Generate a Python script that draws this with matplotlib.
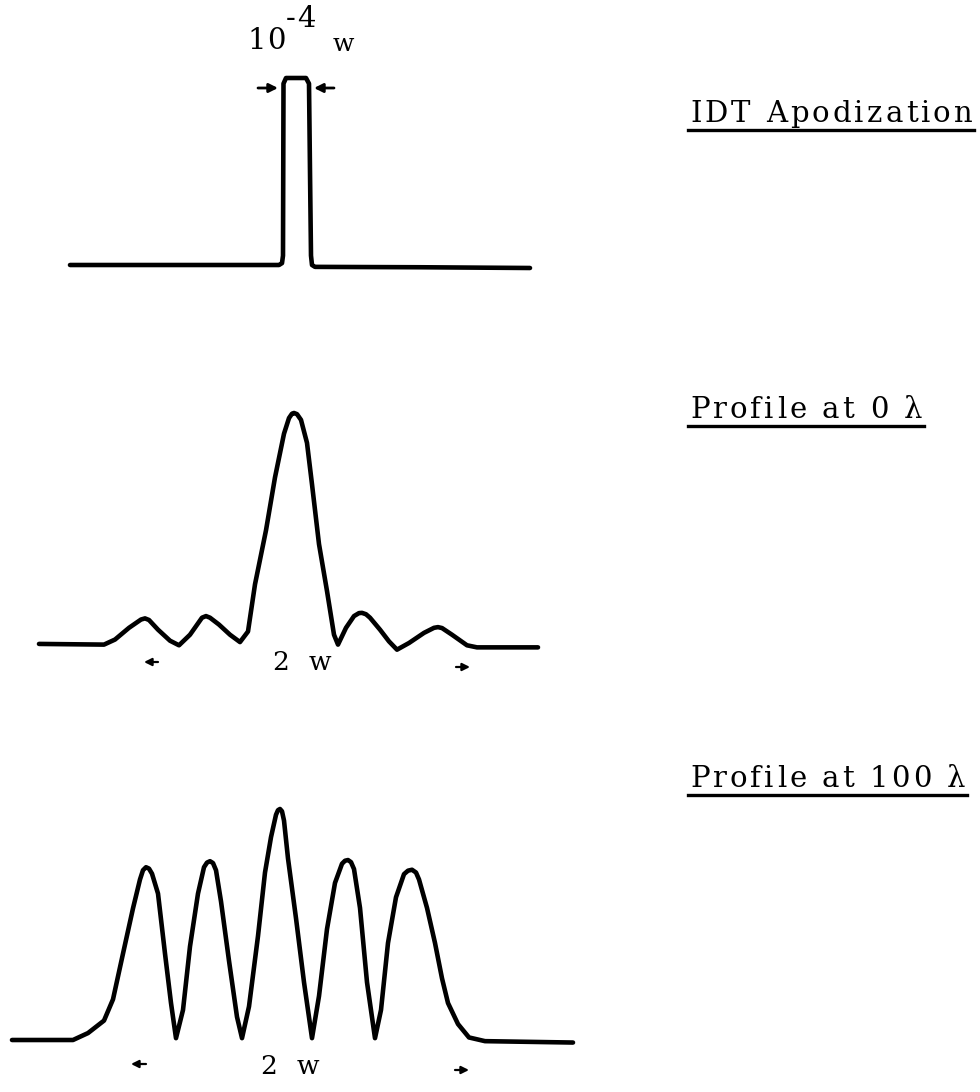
import matplotlib
matplotlib.use('Agg')
import matplotlib.pyplot as plt

W, H = 980, 1092

# transducer apodization: a narrow rectangular window
apod_x = [70, 200, 279, 282, 283, 283.5, 286, 306, 309, 310, 311, 312, 315, 420, 530]
apod_y = [0.0, 0.0, 0.0, 0.01, 0.05, 0.97, 1.0, 1.0, 0.97, 0.5, 0.05, 0.0, -0.01, -0.012, -0.016]

# beam profile at 0 wavelengths
prof0_x = [39, 104, 115, 129, 141, 145, 149, 158, 170, 179, 190, 202, 206, 210, 219,
           230, 240, 248, 255, 266, 275, 284, 289, 292, 294, 297, 301, 307, 312, 319,
           327, 334, 338, 346, 354, 359, 362, 366, 370, 380, 389, 397, 409, 424, 434,
           438, 442, 452, 467, 477, 538]
prof0_y = [-0.004, -0.007, 0.015, 0.066, 0.102, 0.107, 0.1, 0.058, 0.01, -0.01, 0.036,
           0.11, 0.117, 0.11, 0.08, 0.036, 0.004, 0.05, 0.255, 0.49, 0.72, 0.91, 0.978,
           0.997, 1.0, 0.995, 0.97, 0.87, 0.69, 0.43, 0.226, 0.036, -0.007, 0.066, 0.117,
           0.13, 0.131, 0.125, 0.11, 0.058, 0.007, -0.029, 0.0, 0.044, 0.066, 0.069,
           0.065, 0.036, -0.01, -0.019, -0.019]

# beam profile at 100 wavelengths
prof100_x = [12, 73, 88, 104, 113, 123, 133, 140, 143, 146, 149, 152, 158, 165, 171,
             176, 183, 190, 198, 204, 207, 210, 213, 216, 221, 229, 237, 242, 249, 258,
             265, 271, 276, 278, 280, 282, 284, 288, 296, 304, 312, 319, 327, 335, 342,
             345, 348, 351, 354, 360, 367, 375, 381, 388, 396, 404, 408, 412, 416, 419,
             427, 435, 442, 448, 458, 469, 485, 573]
prof100_y = [0.0, 0.0, 0.03, 0.084, 0.176, 0.374, 0.57, 0.695, 0.735, 0.748, 0.742,
             0.72, 0.634, 0.374, 0.16, 0.008, 0.13, 0.405, 0.634, 0.748, 0.768, 0.774,
             0.766, 0.735, 0.6, 0.343, 0.1, 0.008, 0.145, 0.45, 0.725, 0.878, 0.975,
             0.995, 1.0, 0.99, 0.95, 0.786, 0.527, 0.25, 0.008, 0.19, 0.48, 0.68, 0.763,
             0.776, 0.779, 0.77, 0.74, 0.572, 0.25, 0.008, 0.13, 0.42, 0.618, 0.718,
             0.733, 0.737, 0.725, 0.695, 0.572, 0.42, 0.267, 0.16, 0.069, 0.011, -0.005,
             -0.011]

labels = ['IDT Apodization', 'Profile at 0 \u03bb', 'Profile at 100 \u03bb']

serif = 'DejaVu Serif'

fig = plt.figure(figsize=(W / 100, H / 100), dpi=100)
fig.patch.set_facecolor('white')

page = fig.add_axes([0, 0, 1, 1])
page.set_xlim(0, W)
page.set_ylim(H, 0)
page.axis('off')

fig.canvas.draw()
renderer = fig.canvas.get_renderer()


def curve_axes(base, top):
    ax = fig.add_axes([0, 1 - base / H, 1, (base - top) / H])
    ax.set_xlim(0, W)
    ax.set_ylim(0, 1)
    ax.axis('off')
    return ax


def arrow(x0, x1, y, size=11, lw=1.6):
    page.annotate('', xy=(x1, y), xytext=(x0, y),
                  arrowprops=dict(arrowstyle='-|>', color='black', lw=lw,
                                  mutation_scale=size, shrinkA=0, shrinkB=0))


def spaced(x, y, s, track, size, space=0.5):
    # typewriter style lettering: one glyph at a time with extra spacing
    probe = page.text(0, 0, 'n', fontsize=size, family=serif)
    space_w = probe.get_window_extent(renderer).width * space
    probe.remove()
    for ch in s:
        if ch == ' ':
            x += space_w + track
            continue
        t = page.text(x, y, ch, fontsize=size, family=serif, ha='left', va='baseline')
        x += t.get_window_extent(renderer).width + track
    return x - track


# the three traces
for xs, ys, base, top in [(apod_x, apod_y, 265, 78),
                          (prof0_x, prof0_y, 643, 413),
                          (prof100_x, prof100_y, 1040, 809)]:
    ax = curve_axes(base, top)
    ax.plot(xs, ys, color='black', lw=3.3, solid_joinstyle='round',
            solid_capstyle='round', clip_on=False)

# width of the aperture
spaced(247, 49, '10', 1.5, 21)
spaced(286, 27, '-4', 1, 21)
spaced(333, 51, 'w', 0, 18)
arrow(258, 278, 88, size=13, lw=2)
arrow(334, 314, 88, size=13, lw=2)

# 2 w span markers
spaced(272, 670, '2 w', 2, 19, space=0.9)
arrow(158, 144, 662)
arrow(456, 470, 667)
spaced(260, 1074, '2 w', 2, 19, space=0.9)
arrow(146, 131, 1064)
arrow(455, 469, 1070)

# underlined captions on the right
for label, y in zip(labels, [122, 418, 787]):
    x1 = spaced(690, y, label, 3.1, 21)
    page.plot([688, x1 + 2], [y + 8, y + 8], color='black', lw=2.4)

fig.savefig('out.png', dpi=100, facecolor='white')
